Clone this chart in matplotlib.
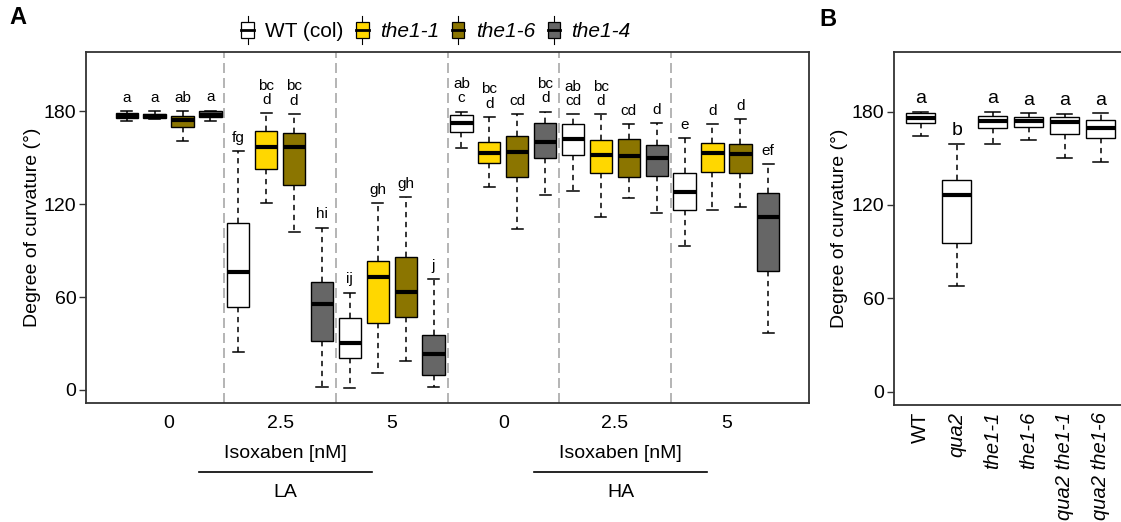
import matplotlib
matplotlib.use("Agg")
import numpy as np
import matplotlib.pyplot as plt
from matplotlib.patches import Rectangle, Patch
from matplotlib.lines import Line2D
from matplotlib.legend_handler import HandlerBase

plt.rcParams['font.family'] = ['Liberation Sans', 'DejaVu Sans']

# ---------------- Panel A data ----------------
genotypes_A = ['WT (col)', 'the1-1', 'the1-6', 'the1-4']
colors_A = ['#FFFFFF', '#FFD700', '#8B7500', '#666666']
conc_labels = ['0', '2.5', '5', '0', '2.5', '5']
light_labels = ['LA', 'HA']

# 24 boxes: 6 conditions x 4 genotypes (WT, the1-1, the1-6, the1-4)
A_whislo = [174, 175, 161, 173.5,
            24.8, 120.6, 102.3, 1.7,
            1.1, 11.2, 18.9, 2.2,
            156.2, 130.9, 104, 126,
            128.6, 112, 123.9, 114.6,
            93, 116.3, 118.4, 36.6]
A_q1 = [176, 176, 170, 176.5,
        53.8, 142.8, 132.5, 31.9,
        20.5, 43.5, 47.4, 9.5,
        166.5, 146.4, 137.9, 149.9,
        151.6, 140.4, 137.4, 138.3,
        116.3, 140.9, 140.4, 77.1]
A_med = [177, 177, 174.5, 178,
         76.5, 157.2, 156.8, 55.6,
         30.6, 73.2, 63.5, 23.3,
         172.7, 153.4, 153.6, 160.4,
         162.2, 151.8, 151.2, 150.1,
         127.7, 152.9, 152.5, 111.6]
A_q3 = [179, 178.5, 177, 180,
        107.7, 167.4, 165.8, 70,
        46.3, 83.6, 85.7, 35.3,
        177.7, 160.4, 164.2, 172.3,
        171.7, 161.3, 162.4, 158.1,
        140, 159.7, 158.7, 127.1]
A_whishi = [180, 180, 180, 180.5,
            154.4, 178.8, 178.5, 105,
            63, 120.6, 124.9, 71.5,
            179.9, 176.6, 178.1, 179.9,
            178.1, 178.1, 171.9, 172.3,
            163, 171.7, 174.9, 145.8]
A_letters = ['a', 'a', 'ab', 'a',
             'fg', 'bc\nd', 'bc\nd', 'hi',
             'ij', 'gh', 'gh', 'j',
             'ab\nc', 'bc\nd', 'cd', 'bc\nd',
             'ab\ncd', 'bc\nd', 'cd', 'd',
             'e', 'd', 'd', 'ef']

# ---------------- Panel B data ----------------
B_labels = ['WT', 'qua2', 'the1-1', 'the1-6', 'qua2 the1-1', 'qua2 the1-6']
B_whislo = [164.2, 68.2, 159.1, 161.7, 149.9, 147.8]
B_q1 = [172.4, 95.4, 169.2, 169.8, 165.3, 162.8]
B_med = [175.6, 126.4, 174.1, 174.1, 173.4, 169.6]
B_q3 = [178.8, 136.0, 177.3, 176.6, 176.6, 174.5]
B_whishi = [179.8, 159.1, 179.8, 178.8, 178.4, 178.8]
B_letters = ['a', 'b', 'a', 'a', 'a', 'a']

W, H = 1121, 522
fig = plt.figure(figsize=(W / 100, H / 100), dpi=100)

spine_col = '#333333'
whisk_style = dict(color='black', linewidth=1.1, linestyle=(0, (3.5, 3)))
cap_style = dict(color='black', linewidth=1.1)
box_style = dict(edgecolor='black', linewidth=1.0)
med_style = dict(color='black', linewidth=3.0, solid_capstyle='butt')


def make_stats(lo, q1, med, q3, hi):
    return [dict(whislo=a, q1=b, med=c, q3=d, whishi=e, fliers=[])
            for a, b, c, d, e in zip(lo, q1, med, q3, hi)]


def style_axes(ax):
    for s in ax.spines.values():
        s.set_color(spine_col)
        s.set_linewidth(1.3)
    ax.tick_params(axis='y', length=5, width=1.0, color=spine_col, pad=2, labelsize=14)
    ax.set_yticks([0, 60, 120, 180])
    ax.set_ylim(-8.4, 218.4)


# ---------------- Panel A ----------------
axA = fig.add_axes([86 / W, 1 - 403 / H, (809 - 86) / W, (403 - 52) / H])
nG = len(genotypes_A)
posA = np.arange(1, len(A_med) + 1)
statsA = make_stats(A_whislo, A_q1, A_med, A_q3, A_whishi)
bpA = axA.bxp(statsA, positions=posA, widths=0.8, patch_artist=True, showfliers=False,
              boxprops=box_style, whiskerprops=whisk_style, capprops=cap_style,
              medianprops=med_style, capwidths=0.4)
for i, patch in enumerate(bpA['boxes']):
    patch.set_facecolor(colors_A[i % nG])

# group separators
n_groups = len(conc_labels)
for g in range(1, n_groups):
    axA.axvline(posA[g * nG] - 0.5, color='#A8A8A8', linewidth=1.2,
                linestyle=(0, (6, 3)), zorder=0)

for p, hi, lab in zip(posA, A_whishi, A_letters):
    axA.text(p, hi + 4, lab, ha='center', va='bottom', fontsize=11, linespacing=1.05)

centers = [posA[g * nG:(g + 1) * nG].mean() for g in range(n_groups)]
axA.set_xticks(centers)
axA.set_xticklabels(conc_labels, fontsize=14)
axA.tick_params(axis='x', length=0, pad=9)
axA.set_xlim(-0.46, 25.46)
style_axes(axA)
axA.set_ylabel('Degree of curvature (°)', fontsize=14)
axA.yaxis.set_label_coords(-0.062, 0.5)

trA = axA.get_xaxis_transform()
for k, lt in enumerate(light_labels):
    c = centers[3 * k + 1]
    axA.text(c + 0.2, -0.1425, 'Isoxaben [nM]', transform=trA, ha='center', va='center', fontsize=14)
    axA.plot([c - 2.9, c + 3.3], [-0.1957, -0.1957], transform=trA, color='black',
             linewidth=1.2, clip_on=False)
    axA.text(c + 0.2, -0.2536, lt, transform=trA, ha='center', va='center', fontsize=14)


# legend with boxplot glyphs
class BoxHandler(HandlerBase):
    def create_artists(self, legend, orig_handle, xdescent, ydescent, width, height, fontsize, trans):
        fc = orig_handle.get_facecolor()
        bh = height * 0.6
        x0 = -xdescent
        y0 = -ydescent + (height - bh) / 2
        cx = x0 + width / 2
        w1 = Line2D([cx, cx], [-ydescent, y0], color='black', lw=0.8, transform=trans)
        w2 = Line2D([cx, cx], [y0 + bh, -ydescent + height], color='black', lw=0.8, transform=trans)
        rect = Rectangle((x0, y0), width, bh, facecolor=fc, edgecolor='black', lw=0.9, transform=trans)
        med = Line2D([x0, x0 + width], [y0 + bh / 2] * 2, color='black', lw=2.0, transform=trans)
        return [w1, w2, rect, med]


handles = [Patch(facecolor=c) for c in colors_A]
leg = fig.legend(handles, genotypes_A, handler_map={Patch: BoxHandler()},
                 loc='center', bbox_to_anchor=(436 / W, 1 - 30 / H), ncol=4, frameon=False,
                 fontsize=15, handlelength=0.6, handleheight=1.7, handletextpad=0.55,
                 columnspacing=0.6, borderpad=0, borderaxespad=0)
for i, t in enumerate(leg.get_texts()):
    if i > 0:
        t.set_fontstyle('italic')

# ---------------- Panel B ----------------
axB = fig.add_axes([894 / W, 1 - 405 / H, (1127.3 - 894) / W, (405 - 51.7) / H])
posB = np.arange(1, len(B_med) + 1)
statsB = make_stats(B_whislo, B_q1, B_med, B_q3, B_whishi)
bpB = axB.bxp(statsB, positions=posB, widths=0.8, patch_artist=True, showfliers=False,
              boxprops=box_style, whiskerprops=whisk_style, capprops=cap_style,
              medianprops=med_style, capwidths=0.4)
for patch in bpB['boxes']:
    patch.set_facecolor('white')
for p, hi, lab in zip(posB, B_whishi, B_letters):
    axB.text(p, hi + 3, lab, ha='center', va='bottom', fontsize=14)
axB.set_xticks(posB)
axB.set_xticklabels(B_labels, rotation=90, fontsize=14.5, va='top')
for i, t in enumerate(axB.get_xticklabels()):
    if i > 0:
        t.set_fontstyle('italic')
axB.tick_params(axis='x', length=0, pad=5)
axB.set_xlim(0.26, 6.74)
style_axes(axB)
axB.set_ylabel('Degree of curvature (°)', fontsize=14)
axB.yaxis.set_label_coords(-0.197, 0.5)

fig.text(18 / W, 1 - 18 / H, 'A', fontsize=17, fontweight='bold', ha='center', va='center')
fig.text(828 / W, 1 - 19 / H, 'B', fontsize=17, fontweight='bold', ha='center', va='center')

fig.savefig('out.png', dpi=100)
